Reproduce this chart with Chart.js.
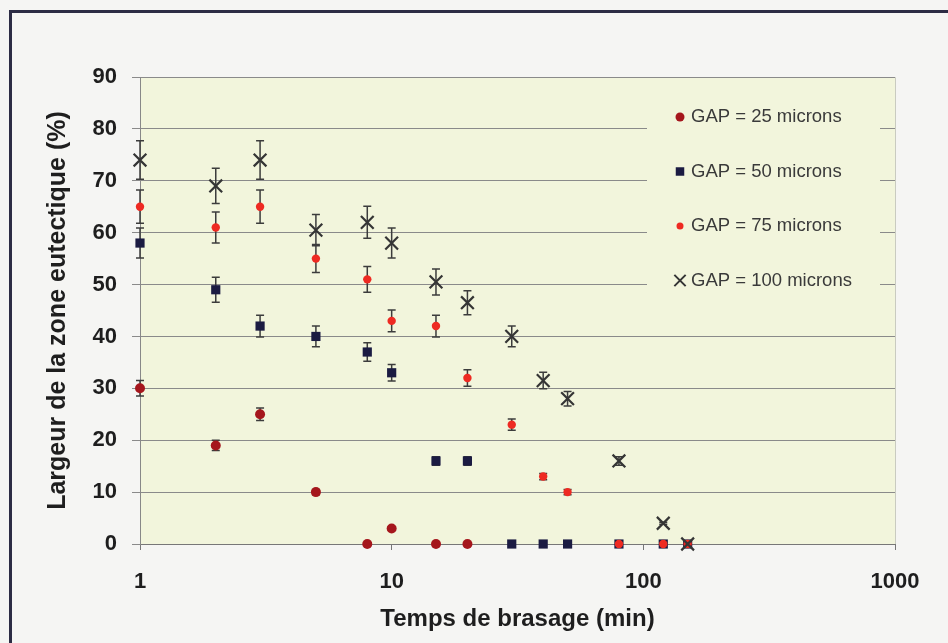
<!DOCTYPE html>
<html lang="fr">
<head>
  <meta charset="utf-8">
  <title>Largeur de la zone eutectique</title>
  <script src="https://cdn.jsdelivr.net/npm/chart.js@4.4.1/dist/chart.umd.min.js"></script>
  <style>
    html, body { margin: 0; padding: 0; background: #f5f5f3; }
    #wrap { width: 948px; height: 643px; }
  </style>
</head>
<body>

<div id="wrap"><canvas id="chart"></canvas></div>

<script>
// temps de brasage (min)
var temps = [1, 2, 3, 5, 8, 10, 15, 20, 30, 40, 50, 80, 120, 150];

// largeur de la zone eutectique (%) + barres d'erreur
var gap25     = [30, 19, 25, 10, 0, 3, 0, 0];
var gap25Err  = [1.5, 1, 1.2, 0.5, 0, 0.2, 0, 0];
var gap50     = [58, 49, 42, 40, 37, 33, 16, 16, 0, 0, 0, 0, 0, 0];
var gap50Err  = [2.9, 2.4, 2.1, 2, 1.8, 1.6, 0.8, 0.8, 0, 0, 0, 0, 0, 0];
var gap75     = [65, 61, 65, 55, 51, 43, 42, 32, 23, 13, 10, 0, 0, 0];
var gap75Err  = [3.2, 3, 3.2, 2.7, 2.5, 2.1, 2.1, 1.6, 1.1, 0.6, 0.5, 0, 0, 0];
var gap100    = [74, 69, 74, 60.5, 62, 58, 50.5, 46.5, 40, 31.5, 28, 16, 4, 0];
var gap100Err = [3.7, 3.4, 3.7, 3, 3.1, 2.9, 2.5, 2.3, 2, 1.6, 1.4, 0.8, 0.2, 0];

var seriesLabels = ['GAP = 25 microns', 'GAP = 50 microns', 'GAP = 75 microns', 'GAP = 100 microns'];
var xTicks = [1, 10, 100, 1000];

var plotBg = '#f2f5dc';
var fontName = '"Liberation Sans", Arial, sans-serif';

function points(values) {
  return values.map(function (v, i) { return { x: temps[i], y: v }; });
}

function drawMarker(ctx, style, x, y, r, color) {
  ctx.save();
  ctx.fillStyle = color;
  ctx.strokeStyle = color;
  if (style === 'circle') {
    ctx.beginPath();
    ctx.arc(x, y, r, 0, Math.PI * 2);
    ctx.fill();
  } else if (style === 'rect') {
    var s = r * Math.SQRT1_2;
    ctx.fillRect(x - s, y - s, 2 * s, 2 * s);
  } else {
    var d = r * Math.SQRT1_2;
    ctx.lineWidth = 2;
    ctx.beginPath();
    ctx.moveTo(x - d, y - d); ctx.lineTo(x + d, y + d);
    ctx.moveTo(x + d, y - d); ctx.lineTo(x - d, y + d);
    ctx.stroke();
  }
  ctx.restore();
}

// fond de page, cadre et fond de la zone de tracé
var fondPlugin = {
  id: 'fond',
  beforeDraw: function (chart) {
    var ctx = chart.ctx, a = chart.chartArea;
    ctx.save();
    ctx.fillStyle = '#f5f5f3';
    ctx.fillRect(0, 0, chart.width, chart.height);
    ctx.fillStyle = '#2c2c44';
    ctx.fillRect(9, 10, chart.width - 9, 3);
    ctx.fillRect(9, 10, 3, chart.height - 10);
    ctx.fillStyle = plotBg;
    ctx.fillRect(a.left, a.top, a.right - a.left, a.bottom - a.top);
    ctx.strokeStyle = '#c9cbc0';
    ctx.lineWidth = 1;
    ctx.beginPath();
    ctx.moveTo(a.left, a.top + 0.5);
    ctx.lineTo(a.right + 0.5, a.top + 0.5);
    ctx.lineTo(a.right + 0.5, a.bottom);
    ctx.stroke();
    ctx.restore();
  }
};

// barres d'erreur verticales
var erreurPlugin = {
  id: 'erreurs',
  beforeDatasetsDraw: function (chart) {
    var ctx = chart.ctx;
    var xs = chart.scales.x, ys = chart.scales.y;
    ctx.save();
    ctx.strokeStyle = '#3c3c3c';
    ctx.lineWidth = 1.5;
    chart.data.datasets.forEach(function (ds) {
      if (!ds.err) return;
      ds.data.forEach(function (p, i) {
        var e = ds.err[i];
        if (!e) return;
        var px = xs.getPixelForValue(p.x);
        var top = ys.getPixelForValue(p.y + e);
        var bot = ys.getPixelForValue(p.y - e);
        ctx.beginPath();
        ctx.moveTo(px, top); ctx.lineTo(px, bot);
        ctx.moveTo(px - 4, top); ctx.lineTo(px + 4, top);
        ctx.moveTo(px - 4, bot); ctx.lineTo(px + 4, bot);
        ctx.stroke();
      });
    });
    ctx.restore();
  }
};

// légende façon Excel, posée dans la zone de tracé
var legendePlugin = {
  id: 'legende',
  afterDatasetsDraw: function (chart) {
    var ctx = chart.ctx, a = chart.chartArea;
    var left = a.right - 248, top = a.top + 18;
    ctx.save();
    ctx.fillStyle = plotBg;
    ctx.fillRect(left, top, 233, 210);
    ctx.font = '18.5px ' + fontName;
    ctx.fillStyle = '#3a3a3a';
    ctx.textBaseline = 'middle';
    chart.data.datasets.forEach(function (ds, i) {
      var y = top + 22 + i * 54.5;
      drawMarker(ctx, ds.pointStyle, left + 33, y, ds.legendRadius, ds.backgroundColor);
      ctx.fillText(ds.label, left + 44, y);
    });
    ctx.restore();
  }
};

new Chart(document.getElementById('chart'), {
  type: 'scatter',
  data: {
    datasets: [
      {
        label: seriesLabels[0], data: points(gap25), err: gap25Err,
        pointStyle: 'circle', pointRadius: 5, legendRadius: 4.5,
        backgroundColor: '#a5161c', borderColor: '#a5161c', borderWidth: 0,
        order: 4, clip: false
      },
      {
        label: seriesLabels[1], data: points(gap50), err: gap50Err,
        pointStyle: 'rect', pointRadius: 6.5, legendRadius: 6,
        backgroundColor: '#1b1b42', borderColor: '#1b1b42', borderWidth: 0,
        order: 3, clip: false
      },
      {
        label: seriesLabels[2], data: points(gap75), err: gap75Err,
        pointStyle: 'circle', pointRadius: 4.2, legendRadius: 3.5,
        backgroundColor: '#ee2a22', borderColor: '#ee2a22', borderWidth: 0,
        order: 2, clip: false
      },
      {
        label: seriesLabels[3], data: points(gap100), err: gap100Err,
        pointStyle: 'crossRot', pointRadius: 9, legendRadius: 8,
        backgroundColor: '#353535', borderColor: '#353535', borderWidth: 2.2,
        order: 1, clip: false
      }
    ]
  },
  options: {
    responsive: true,
    maintainAspectRatio: false,
    animation: false,
    devicePixelRatio: 1,
    layout: { padding: { left: 10, top: 77, right: 53, bottom: 5 } },
    plugins: {
      legend: { display: false },
      tooltip: { enabled: false }
    },
    scales: {
      x: {
        type: 'logarithmic',
        min: 1,
        max: 1000,
        afterBuildTicks: function (scale) {
          scale.ticks = xTicks.map(function (v) { return { value: v }; });
        },
        afterFit: function (scale) { scale.height = 94; },
        grid: { drawOnChartArea: false, drawTicks: true, tickLength: 6, color: '#777' },
        border: { display: true, color: '#777', width: 1 },
        ticks: {
          padding: 19,
          color: '#1e1e1e',
          font: { family: fontName, size: 22, weight: 'bold' },
          callback: function (v) { return String(v); }
        },
        title: {
          display: true,
          text: 'Temps de brasage (min)',
          color: '#1e1e1e',
          font: { family: fontName, size: 24, weight: 'bold' },
          padding: { top: 0, bottom: 4 }
        }
      },
      y: {
        min: 0,
        max: 90,
        afterFit: function (scale) { scale.width = 130; },
        grid: { color: '#8a8a8a', lineWidth: 1, tickLength: 8 },
        border: { display: true, color: '#888', width: 1 },
        ticks: {
          stepSize: 10,
          padding: 15,
          color: '#1e1e1e',
          font: { family: fontName, size: 22, weight: 'bold' }
        },
        title: {
          display: true,
          text: 'Largeur de la zone eutectique (%)',
          color: '#1e1e1e',
          font: { family: fontName, size: 25, weight: 'bold' },
          padding: { top: 33, bottom: 0 }
        }
      }
    }
  },
  plugins: [fondPlugin, erreurPlugin, legendePlugin]
});
</script>
</body>
</html>
